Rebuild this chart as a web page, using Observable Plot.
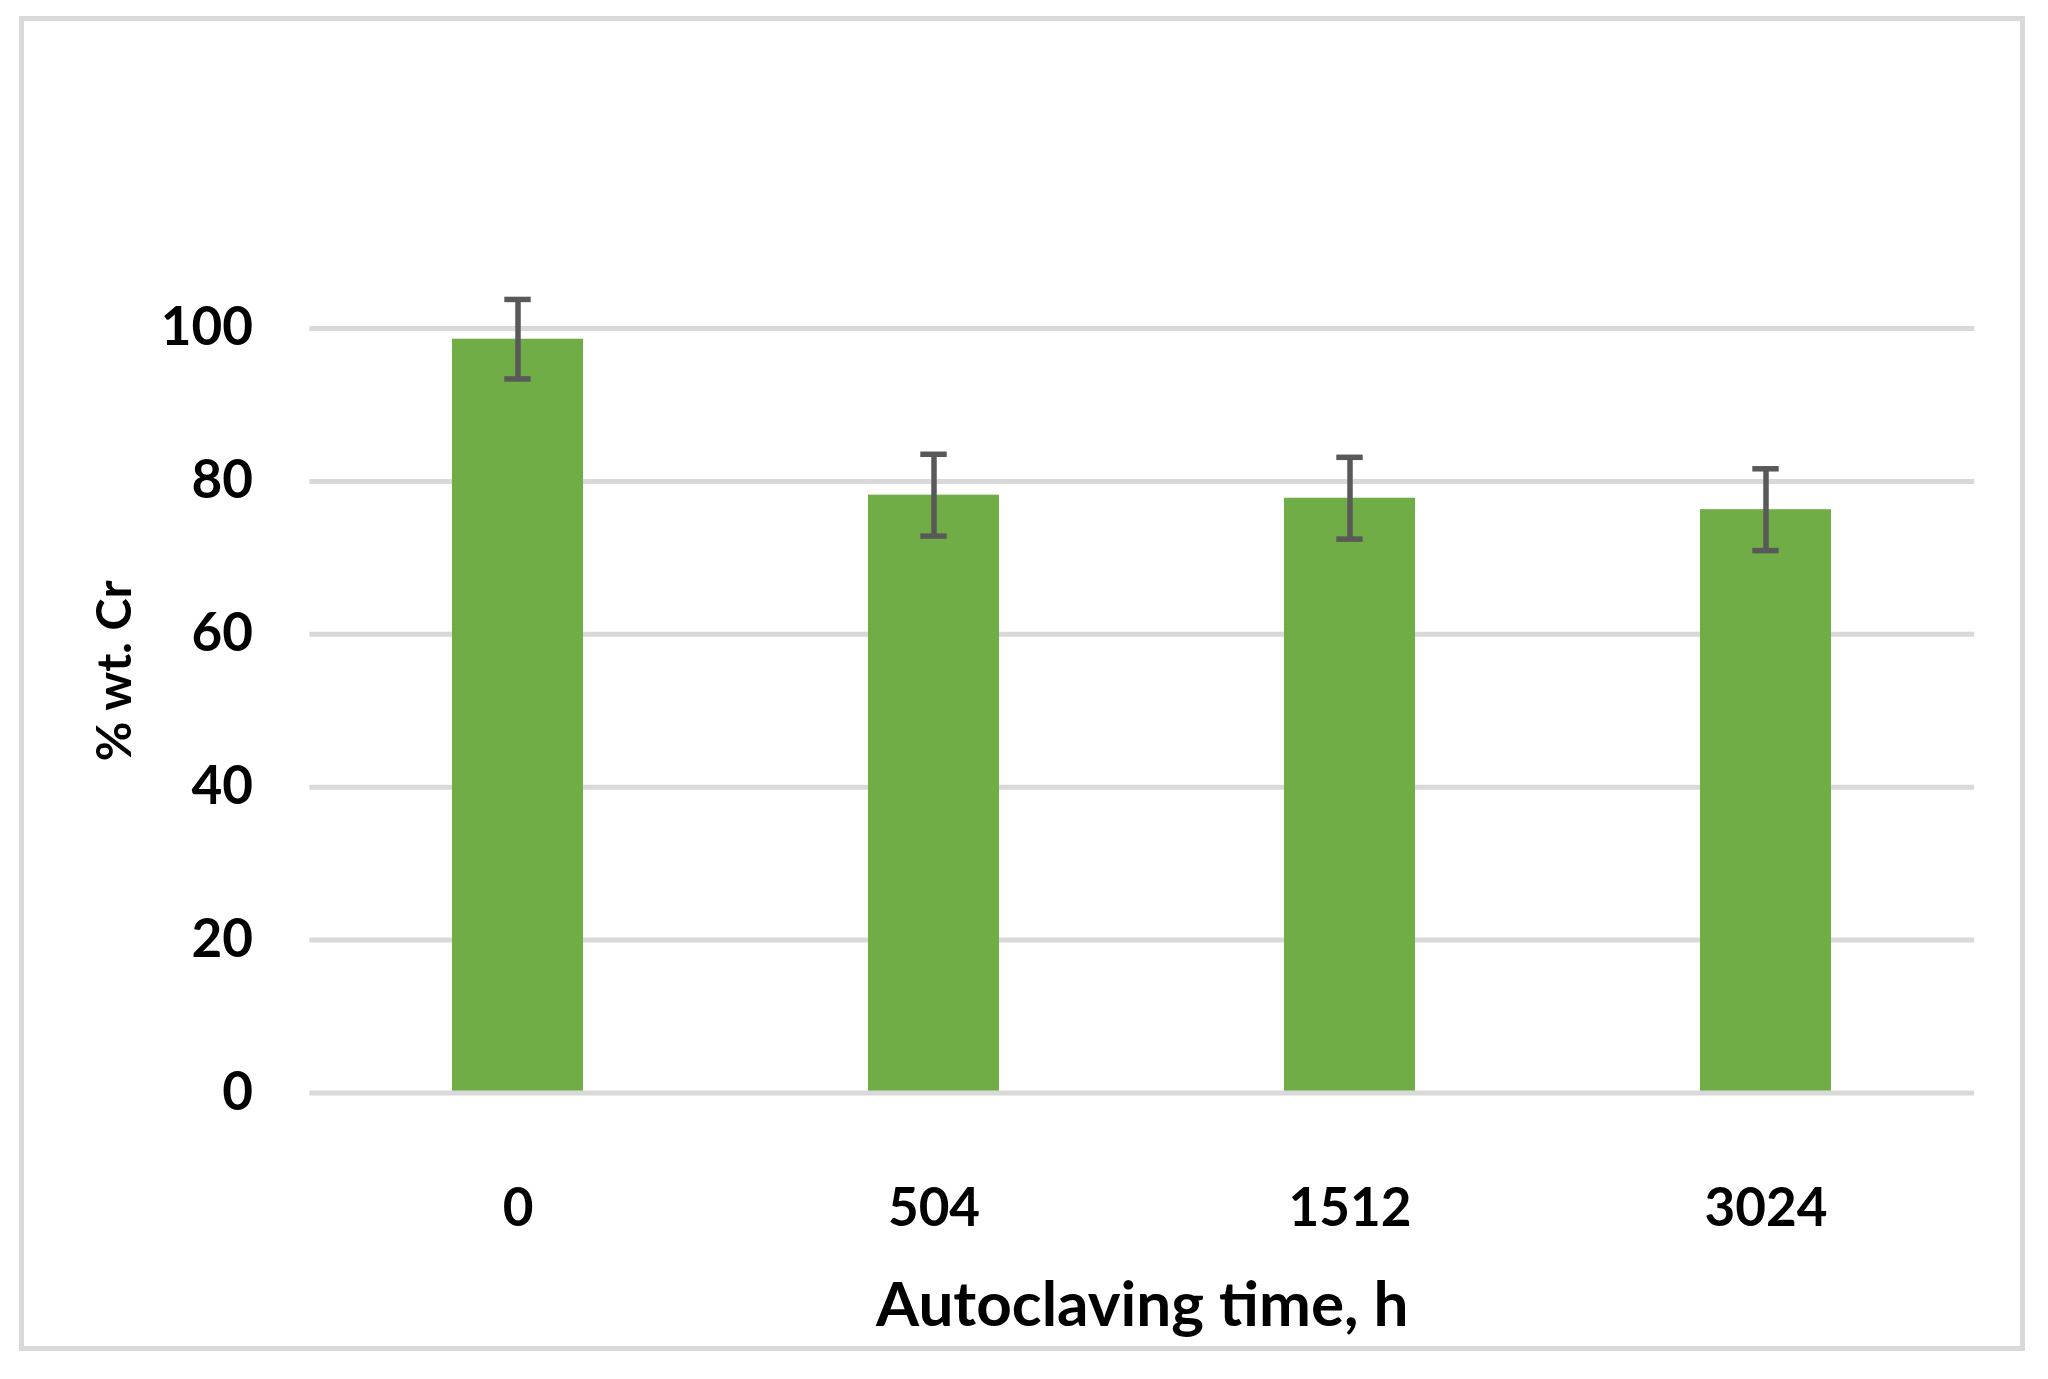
<!DOCTYPE html>
<html>
<head>
<meta charset="utf-8">
<script src="https://cdn.jsdelivr.net/npm/d3@7"></script>
<script src="https://cdn.jsdelivr.net/npm/@observablehq/plot@0.6"></script>
<style>
  html, body { margin: 0; padding: 0; background: #ffffff; }
  #wrap { position: relative; width: 2048px; height: 1379px; overflow: hidden; }
  #border { position: absolute; left: 19px; top: 16px; width: 1996px; height: 1325px;
            border: 5.5px solid #d9d9d9; pointer-events: none; }
  #chart { position: absolute; left: 0; top: 0; }
</style>
</head>
<body>
<div id="wrap"><div id="chart"></div><div id="border"></div></div>
<script>
const times = ["0", "504", "1512", "3024"];
const values = [98.6, 78.2, 77.8, 76.3];
const errors = [5.2, 5.35, 5.35, 5.35];
const yTicks = [0, 20, 40, 60, 80, 100];
const xTitle = "Autoclaving time, h";
const yTitle = "% wt. Cr";

const data = times.map((t, i) => ({time: t, v: values[i], e: errors[i]}));

const font = "Lato, 'Open Sans', sans-serif";

const chart = Plot.plot({
  width: 2048,
  height: 1379,
  marginLeft: 309.4,
  marginRight: 73.8,
  marginTop: 328,
  marginBottom: 286.5,
  style: {fontFamily: font, color: "#000000", background: "transparent", overflow: "visible"},
  x: {type: "band", domain: times, paddingInner: 0.684, paddingOuter: 0.342},
  y: {domain: [0, 100]},
  marks: [
    Plot.ruleY(yTicks.filter(d => d !== 0), {stroke: "#d9d9d9", strokeWidth: 5}),
    Plot.barY(data, {x: "time", y: "v", fill: "#70ad47"}),
    Plot.ruleY([0], {stroke: "#d9d9d9", strokeWidth: 5}),
    Plot.ruleX(data, {x: "time", y1: d => d.v - d.e, y2: d => d.v + d.e, stroke: "#595959", strokeWidth: 5.5}),
    Plot.tickY(data, {x: "time", y: d => d.v + d.e, stroke: "#595959", strokeWidth: 5.5, insetLeft: 52.3, insetRight: 52.3}),
    Plot.tickY(data, {x: "time", y: d => d.v - d.e, stroke: "#595959", strokeWidth: 5.5, insetLeft: 52.3, insetRight: 52.3}),
    Plot.axisY({ticks: yTicks, tickSize: 0, tickPadding: 57, label: null, fontSize: 53, fontWeight: 700, fill: "#000000"}),
    Plot.axisX({tickSize: 0, tickPadding: 95, label: null, fontSize: 53, fontWeight: 700, fill: "#000000"}),
    Plot.text([xTitle], {frameAnchor: "bottom", dy: 232.5, lineAnchor: "bottom", fontSize: 62, fontWeight: 700, fill: "#000000"}),
    Plot.text([yTitle], {frameAnchor: "left", dx: -194.4, dy: -40, rotate: -90, lineAnchor: "middle", textAnchor: "middle", fontSize: 48.5, fontWeight: 700, fill: "#000000"})
  ]
});
document.getElementById("chart").appendChild(chart);
</script>
</body>
</html>
